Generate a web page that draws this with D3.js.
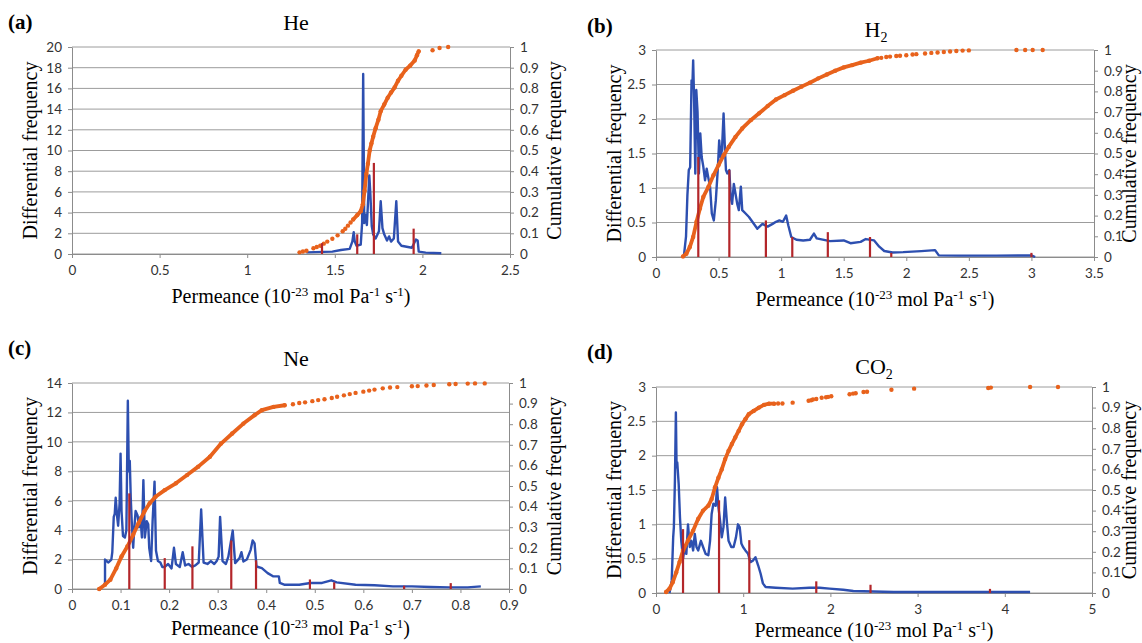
<!DOCTYPE html>
<html>
<head>
<meta charset="utf-8">
<script src="https://cdn.jsdelivr.net/npm/d3@7"></script>
<style>
  body { margin: 0; background: #fff; }
</style>
</head>
<body>
<svg id="vis" width="1142" height="643"></svg>
<script>
// ---- data ----
// (a) He
const heDiff = [[1.338,0.16],[1.486,0.23],[1.535,0.39],[1.585,0.49],[1.600,1.2],[1.608,2.1],[1.614,1.2],[1.624,0.8],[1.648,0.9],[1.656,3.0],[1.662,17.4],[1.668,3.0],[1.676,3.8],[1.683,2.8],[1.691,5.5],[1.697,7.6],[1.703,5.8],[1.711,2.7],[1.719,1.9],[1.733,1.5],[1.752,2.2],[1.762,5.1],[1.772,2.5],[1.782,1.9],[1.798,1.3],[1.81,1.7],[1.821,1.2],[1.837,1.5],[1.851,5.1],[1.861,1.2],[1.88,0.8],[1.94,0.6],[1.963,1.4],[1.973,1.3],[1.979,0.23],[2.019,0.13],[2.108,0.07]];
const heCumLine = [[1.605,0.167],[1.628,0.188],[1.648,0.207],[1.66,0.24],[1.67,0.305],[1.68,0.387],[1.689,0.436],[1.699,0.50],[1.709,0.534],[1.719,0.567],[1.733,0.608],[1.749,0.649],[1.762,0.69],[1.782,0.722],[1.802,0.755],[1.821,0.78],[1.841,0.804],[1.861,0.837],[1.88,0.861],[1.904,0.89],[1.93,0.91],[1.956,0.935],[1.969,0.96],[1.979,0.979]];
const heCumDots = [[1.299,0.008],[1.318,0.012],[1.338,0.016],[1.378,0.028],[1.397,0.034],[1.417,0.04],[1.437,0.05],[1.457,0.06],[1.486,0.074],[1.516,0.09],[1.545,0.11],[1.56,0.122],[1.575,0.137],[1.59,0.152],[2.058,0.984],[2.098,0.995],[2.147,1.0]];
const heSpikes = [[1.427,1.05],[1.628,1.9],[1.723,8.8],[1.95,2.45]];

// (b) H2
const h2Diff = [[0.222,0],[0.24,0.3],[0.251,0.9],[0.262,1.26],[0.273,1.3],[0.284,2.56],[0.291,2.5],[0.297,2.85],[0.305,2.23],[0.314,1.21],[0.322,2.42],[0.332,2.1],[0.343,1.21],[0.354,1.79],[0.365,1.45],[0.378,1.31],[0.392,1.11],[0.405,1.28],[0.419,1.14],[0.432,1.02],[0.446,0.63],[0.462,0.53],[0.478,0.82],[0.495,1.31],[0.505,1.69],[0.516,1.45],[0.527,1.55],[0.54,2.08],[0.551,1.55],[0.559,1.26],[0.57,1.21],[0.586,1.26],[0.597,0.87],[0.608,0.77],[0.622,1.06],[0.635,0.92],[0.649,0.77],[0.662,0.68],[0.678,1.02],[0.689,0.68],[0.716,0.63],[0.743,0.58],[0.77,0.51],[0.81,0.41],[0.851,0.48],[0.892,0.44],[0.932,0.48],[0.959,0.51],[0.986,0.53],[1.014,0.51],[1.04,0.6],[1.057,0.46],[1.081,0.29],[1.122,0.25],[1.176,0.24],[1.23,0.25],[1.262,0.34],[1.284,0.27],[1.39,0.23],[1.5,0.24],[1.554,0.2],[1.635,0.22],[1.676,0.26],[1.743,0.24],[1.784,0.15],[1.824,0.087],[1.89,0.065],[1.975,0.07],[2.12,0.085],[2.23,0.10],[2.26,0.024],[2.42,0.02],[2.72,0.02],[3.0,0.024],[3.03,0]];
const h2CumLine = [[0.216,0.003],[0.243,0.016],[0.27,0.048],[0.297,0.097],[0.324,0.17],[0.351,0.234],[0.378,0.29],[0.419,0.339],[0.459,0.395],[0.5,0.444],[0.541,0.492],[0.581,0.532],[0.635,0.58],[0.689,0.621],[0.757,0.661],[0.824,0.694],[0.892,0.729],[0.959,0.761],[1.027,0.782],[1.095,0.803],[1.162,0.823],[1.23,0.842],[1.297,0.863],[1.365,0.882],[1.432,0.9],[1.5,0.916],[1.568,0.927],[1.635,0.939],[1.703,0.948],[1.77,0.96]];
const h2CumDots = [[1.80,0.962],[1.84,0.966],[1.87,0.968],[1.92,0.971],[1.95,0.972],[2.0,0.975],[2.05,0.978],[2.08,0.98],[2.15,0.983],[2.2,0.986],[2.25,0.988],[2.3,0.99],[2.35,0.993],[2.4,0.995],[2.45,0.997],[2.5,0.998],[2.88,1.0],[2.95,1.0],[3.01,1.0],[3.09,1.0]];
const h2Spikes = [[0.338,1.45],[0.586,1.26],[0.878,0.53],[1.089,0.29],[1.373,0.36],[1.71,0.29],[1.88,0.06],[3.0,0.06]];

// (c) Ne
const neDiff = [[0.068,0.34],[0.068,2.0],[0.075,1.8],[0.081,2.0],[0.083,2.5],[0.086,4.9],[0.088,5.1],[0.09,6.2],[0.093,4.9],[0.095,4.3],[0.098,5.8],[0.1,9.2],[0.102,5.3],[0.105,3.6],[0.109,3.5],[0.112,4.0],[0.115,12.8],[0.117,8.0],[0.119,8.7],[0.121,6.2],[0.123,4.6],[0.126,2.8],[0.128,4.0],[0.131,5.3],[0.135,5.0],[0.138,4.2],[0.141,4.9],[0.144,3.5],[0.147,7.4],[0.15,3.5],[0.154,4.6],[0.157,4.4],[0.159,2.8],[0.163,1.9],[0.166,4.6],[0.17,7.3],[0.173,2.6],[0.177,1.9],[0.182,1.8],[0.186,1.5],[0.191,1.5],[0.198,1.7],[0.205,1.4],[0.21,2.8],[0.214,1.7],[0.222,1.5],[0.228,2.5],[0.233,1.6],[0.24,1.7],[0.247,1.5],[0.254,1.6],[0.261,1.8],[0.266,5.4],[0.271,1.8],[0.279,1.7],[0.286,1.9],[0.293,1.7],[0.298,1.9],[0.302,2.2],[0.305,4.9],[0.31,1.9],[0.317,1.7],[0.322,2.2],[0.331,3.97],[0.336,1.76],[0.345,2.1],[0.349,2.5],[0.353,1.87],[0.36,2.0],[0.368,2.66],[0.372,3.3],[0.376,3.1],[0.38,1.53],[0.391,1.42],[0.403,1.08],[0.414,0.86],[0.426,0.86],[0.428,0.41],[0.437,0.29],[0.468,0.29],[0.491,0.41],[0.515,0.41],[0.534,0.59],[0.545,0.45],[0.584,0.29],[0.623,0.25],[0.661,0.18],[0.70,0.18],[0.738,0.14],[0.777,0.11],[0.815,0.11],[0.842,0.18]];
const neCumLine = [[0.056,0],[0.068,0.021],[0.079,0.045],[0.091,0.10],[0.102,0.158],[0.114,0.206],[0.126,0.263],[0.137,0.319],[0.149,0.376],[0.16,0.416],[0.172,0.448],[0.191,0.48],[0.214,0.513],[0.237,0.553],[0.26,0.594],[0.284,0.642],[0.307,0.706],[0.33,0.755],[0.353,0.803],[0.376,0.844],[0.391,0.868],[0.415,0.884],[0.438,0.892]];
const neCumDots = [[0.455,0.897],[0.468,0.903],[0.48,0.906],[0.495,0.912],[0.507,0.917],[0.52,0.921],[0.535,0.927],[0.546,0.933],[0.56,0.94],[0.572,0.946],[0.584,0.952],[0.6,0.958],[0.612,0.963],[0.623,0.968],[0.64,0.974],[0.655,0.978],[0.67,0.98],[0.7,0.984],[0.712,0.985],[0.73,0.988],[0.745,0.99],[0.777,0.994],[0.79,0.995],[0.815,0.997],[0.83,0.998],[0.85,0.998]];
const neSpikes = [[0.118,6.5],[0.191,2.1],[0.248,2.9],[0.328,3.3],[0.379,1.95],[0.49,0.65],[0.54,0.45],[0.684,0.22],[0.78,0.4]];

// (d) CO2
const co2Diff = [[0.155,0],[0.18,0.18],[0.197,0.81],[0.205,0.96],[0.217,1.64],[0.228,2.63],[0.236,1.83],[0.244,1.9],[0.26,1.59],[0.275,1.1],[0.29,0.76],[0.31,0.5],[0.33,0.67],[0.348,0.57],[0.367,1.0],[0.387,0.67],[0.406,0.76],[0.426,0.62],[0.445,0.86],[0.464,0.67],[0.484,0.62],[0.515,0.76],[0.54,0.67],[0.569,0.57],[0.6,0.55],[0.62,0.76],[0.638,1.15],[0.658,1.3],[0.685,1.27],[0.7,1.54],[0.716,1.25],[0.735,1.05],[0.754,0.81],[0.774,0.96],[0.793,1.39],[0.812,1.05],[0.832,0.76],[0.863,0.67],[0.89,0.67],[0.917,0.81],[0.94,1.0],[0.96,0.96],[0.979,0.72],[0.998,0.67],[1.025,0.62],[1.056,0.57],[1.083,0.45],[1.11,0.47],[1.141,0.52],[1.172,0.4],[1.2,0.28],[1.226,0.14],[1.257,0.087],[1.373,0.077],[1.567,0.063],[1.76,0.077],[1.876,0.077],[1.99,0.063],[2.147,0.048],[2.263,0.03],[2.727,0.015],[3.5,0.015],[4.29,0.015]];
const co2CumLine = [[0.116,0.005],[0.155,0.021],[0.193,0.053],[0.232,0.10],[0.27,0.15],[0.31,0.206],[0.367,0.255],[0.426,0.303],[0.484,0.36],[0.54,0.4],[0.6,0.424],[0.638,0.456],[0.677,0.513],[0.716,0.56],[0.754,0.60],[0.793,0.65],[0.832,0.69],[0.87,0.723],[0.909,0.755],[0.948,0.787],[0.986,0.819],[1.025,0.844],[1.064,0.868],[1.12,0.884],[1.18,0.9],[1.238,0.913],[1.296,0.919],[1.354,0.919]];
const co2CumDots = [[1.40,0.92],[1.45,0.92],[1.567,0.924],[1.75,0.933],[1.78,0.936],[1.8,0.939],[1.838,0.942],[1.9,0.948],[1.95,0.95],[1.973,0.952],[2.01,0.955],[2.22,0.965],[2.26,0.968],[2.29,0.97],[2.38,0.976],[2.42,0.977],[2.70,0.987],[2.96,0.992],[3.81,0.995],[3.84,0.997],[4.29,1.0],[4.61,1.0]];
const co2Spikes = [[0.31,0.93],[0.723,1.35],[1.07,0.77],[1.838,0.17],[2.46,0.12],[3.83,0.06]];

// ---- layout / styling ----
const serif = "'Liberation Serif', 'Times New Roman', serif";
const sans = "Lato, 'Open Sans', sans-serif";
const blue = "#2d4fb0", orange = "#e8621c", red = "#b3262a", grid = "#9c9c9c", axisCol = "#8c8c8c";

const panels = [
  { tag: "(a)", gas: ["He", ""], diff: heDiff, cumLine: heCumLine, cumDots: heCumDots, spikes: heSpikes,
    xMax: 2.5, xStep: 0.5, yMax: 20, yStep: 2,
    box: { l: 72, r: 510, t: 47, b: 254 }, tagPos: [8, 29], gasPos: [296, 30], leftX: 30, rightX: 555, xTitleY: 303 },
  { tag: "(b)", gas: ["H", "2"], diff: h2Diff, cumLine: h2CumLine, cumDots: h2CumDots, spikes: h2Spikes,
    xMax: 3.5, xStep: 0.5, yMax: 3, yStep: 0.5,
    box: { l: 656, r: 1094, t: 50, b: 257 }, tagPos: [587, 33], gasPos: [876, 37], leftX: 614, rightX: 1130, xTitleY: 306 },
  { tag: "(c)", gas: ["Ne", ""], diff: neDiff, cumLine: neCumLine, cumDots: neCumDots, spikes: neSpikes,
    xMax: 0.9, xStep: 0.1, yMax: 14, yStep: 2,
    box: { l: 72, r: 509, t: 383, b: 589 }, tagPos: [8, 355], gasPos: [296, 366], leftX: 30, rightX: 555, xTitleY: 635 },
  { tag: "(d)", gas: ["CO", "2"], diff: co2Diff, cumLine: co2CumLine, cumDots: co2CumDots, spikes: co2Spikes,
    xMax: 5, xStep: 1, yMax: 3, yStep: 0.5,
    box: { l: 656, r: 1092, t: 387, b: 593 }, tagPos: [587, 359], gasPos: [874, 374], leftX: 614, rightX: 1130, xTitleY: 637 }
];

const svg = d3.select("#vis");

function steps(max, step) {
  const n = Math.round(max / step);
  return d3.range(0, n + 1).map(i => +(i * step).toFixed(3));
}

function styleAxis(sel) {
  sel.select(".domain").attr("stroke", axisCol);
  sel.selectAll(".tick line").attr("stroke", axisCol);
  sel.selectAll(".tick text")
    .attr("fill", "#333")
    .style("font-family", sans)
    .style("font-size", "13.5px");
}

panels.forEach(function (p) {
  const b = p.box;
  const x = d3.scaleLinear().domain([0, p.xMax]).range([b.l, b.r]);
  const y = d3.scaleLinear().domain([0, p.yMax]).range([b.b, b.t]);
  const yc = d3.scaleLinear().domain([0, 1]).range([b.b, b.t]);
  const g = svg.append("g");

  // horizontal gridlines
  const yTicks = steps(p.yMax, p.yStep);
  g.append("g").selectAll("line").data(yTicks).join("line")
    .attr("x1", b.l).attr("x2", b.r)
    .attr("y1", d => y(d)).attr("y2", d => y(d))
    .attr("stroke", grid).attr("stroke-width", 1);

  // axes
  g.append("g").attr("transform", `translate(${b.l},0)`)
    .call(d3.axisLeft(y).tickValues(yTicks).tickSize(4).tickSizeOuter(0).tickPadding(6).tickFormat(d => String(d)))
    .call(styleAxis);
  g.append("g").attr("transform", `translate(${b.r},0)`)
    .call(d3.axisRight(yc).tickValues(steps(1, 0.1)).tickSize(4).tickSizeOuter(0).tickPadding(6).tickFormat(d => String(d)))
    .call(styleAxis);
  g.append("g").attr("transform", `translate(0,${b.b})`)
    .call(d3.axisBottom(x).tickValues(steps(p.xMax, p.xStep)).tickSize(4).tickSizeOuter(0).tickPadding(7).tickFormat(d => String(d)))
    .call(styleAxis);

  // differential frequency (blue line)
  g.append("path").datum(p.diff)
    .attr("fill", "none").attr("stroke", blue).attr("stroke-width", 2.4)
    .attr("stroke-linejoin", "round")
    .attr("d", d3.line().x(d => x(d[0])).y(d => y(d[1])));

  // cumulative frequency (orange dots)
  g.append("path").datum(p.cumLine)
    .attr("fill", "none").attr("stroke", orange).attr("stroke-width", 3.8)
    .attr("stroke-linecap", "round").attr("stroke-linejoin", "round")
    .attr("d", d3.line().x(d => x(d[0])).y(d => yc(d[1])));
  g.append("g").selectAll("circle").data(p.cumLine.concat(p.cumDots)).join("circle")
    .attr("cx", d => x(d[0])).attr("cy", d => yc(d[1])).attr("r", 2.2)
    .attr("fill", orange);

  // red spikes
  g.append("g").selectAll("line").data(p.spikes).join("line")
    .attr("x1", d => x(d[0])).attr("x2", d => x(d[0]))
    .attr("y1", y(0)).attr("y2", d => y(d[1]))
    .attr("stroke", red).attr("stroke-width", 2.2);

  // texts
  g.append("text").attr("x", p.tagPos[0]).attr("y", p.tagPos[1])
    .style("font-family", serif).style("font-weight", "bold").style("font-size", "21px")
    .text(p.tag);

  const gt = g.append("text").attr("x", p.gasPos[0]).attr("y", p.gasPos[1])
    .attr("text-anchor", "middle")
    .style("font-family", serif).style("font-size", "22px");
  gt.append("tspan").text(p.gas[0]);
  if (p.gas[1]) gt.append("tspan").attr("dy", 5).style("font-size", "14px").text(p.gas[1]);

  const cy = (b.t + b.b) / 2;
  g.append("text").attr("transform", `translate(${p.leftX},${cy}) rotate(-90)`)
    .attr("text-anchor", "middle").attr("dy", "0.35em")
    .style("font-family", serif).style("font-size", "20px")
    .text("Differential frequency");
  g.append("text").attr("transform", `translate(${p.rightX},${cy}) rotate(-90)`)
    .attr("text-anchor", "middle").attr("dy", "0.3em")
    .style("font-family", serif).style("font-size", "20px")
    .text("Cumulative frequency");

  const xt = g.append("text").attr("x", (b.l + b.r) / 2).attr("y", p.xTitleY)
    .attr("text-anchor", "middle")
    .style("font-family", serif).style("font-size", "20px");
  xt.append("tspan").text("Permeance (10");
  xt.append("tspan").attr("dy", -7).style("font-size", "13px").text("-23");
  xt.append("tspan").attr("dy", 7).text(" mol Pa");
  xt.append("tspan").attr("dy", -7).style("font-size", "13px").text("-1");
  xt.append("tspan").attr("dy", 7).text(" s");
  xt.append("tspan").attr("dy", -7).style("font-size", "13px").text("-1");
  xt.append("tspan").attr("dy", 7).text(")");
});
</script>
</body>
</html>
